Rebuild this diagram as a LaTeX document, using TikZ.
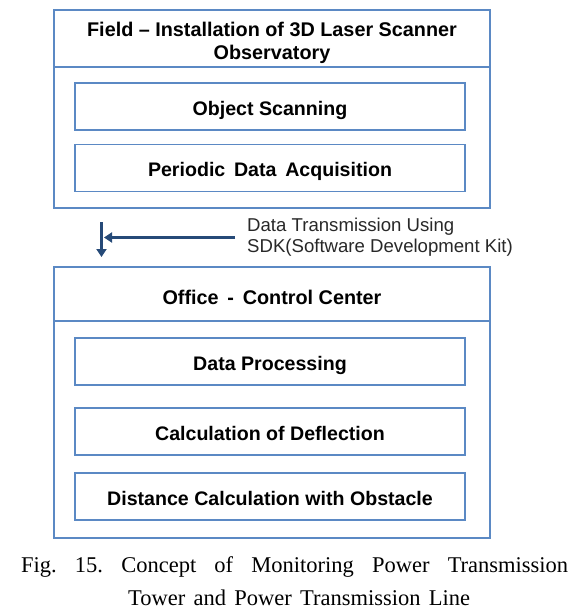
\documentclass[tikz,border=0pt]{standalone}
\usepackage{fontspec}
\setmainfont{Liberation Serif}
\newfontfamily\boxfont[Ligatures=TeX]{Liberation Sans}
\usetikzlibrary{arrows.meta}
\frenchspacing
\definecolor{boxblue}{RGB}{91,137,196}
\definecolor{arrowblue}{RGB}{38,74,120}
\definecolor{labelgray}{RGB}{40,40,40}
\tikzset{
  outerbox/.style={draw=boxblue, line width=1.6pt, minimum width=436pt, inner sep=0pt},
  innerbox/.style={draw=boxblue, line width=1.6pt, minimum width=390pt, minimum height=47pt, inner sep=0pt,
    text height=19pt, text depth=2pt,
    font=\boxfont\bfseries\fontsize{19.6}{20}\selectfont},
  headtext/.style={font=\boxfont\bfseries\fontsize{19.8}{23}\selectfont, align=center, inner sep=0pt},
  flowarrow/.style={draw=arrowblue, line width=2.6pt, -{Triangle[length=8pt,width=10pt]}},
}
\begin{document}
\begin{tikzpicture}[x=1pt,y=-1pt]
\useasboundingbox (0,0) rectangle (587,614);
% Field block
\node[outerbox, minimum height=57pt] (fhead) at (272,38.5) {};
\node[headtext] (fheadtext) at (272,42.5)
  {Field -- Installation of 3D Laser Scanner\\Observatory};
\node[outerbox, minimum height=141pt] (fbody) at (272,137.5) {};
\node[innerbox] (scan) at (270,106.5) {Object Scanning};
\node[innerbox] (acq) at (270,168) {Periodic\, Data\, Acquisition};
% Office block
\node[outerbox, minimum height=54pt] (ohead) at (272,294) {};
\node[headtext, text height=14pt, text depth=0pt] (oheadtext) at (272,297) {Office\, -\, Control Center};
\node[outerbox, minimum height=217pt] (obody) at (272,429.5) {};
\node[innerbox] (proc) at (270,361.5) {Data Processing};
\node[innerbox] (defl) at (270,431.5) {Calculation of Deflection};
\node[innerbox] (dist) at (270,496.5) {Distance Calculation with Obstacle};
% transmission arrows
\coordinate (vtop) at (101.5,222);
\coordinate (vbot) at (101.5,257);
\coordinate (hstart) at (235,237.5);
\coordinate (hend) at (104,237.5);
\draw[flowarrow] (vtop) -- (vbot);
\draw[flowarrow] (hstart) -- (hend);
\node[anchor=west, align=left, inner sep=0pt, text=labelgray,
  font=\boxfont\fontsize{18.6}{21}\selectfont] (sdk) at (247,237.5)
  {Data Transmission Using\\SDK(Software Development Kit)};
% caption
\node[anchor=west, inner sep=0pt, font=\fontsize{22.5}{24}\selectfont] (cap1) at (21,567)
  {\makebox[547pt][s]{Fig. 15. Concept of Monitoring Power Transmission}};
\node[anchor=west, inner sep=0pt, font=\fontsize{22.5}{24}\selectfont] (cap2) at (128,598)
  {\makebox[342pt][s]{Tower and Power Transmission Line}};
\end{tikzpicture}
\end{document}
